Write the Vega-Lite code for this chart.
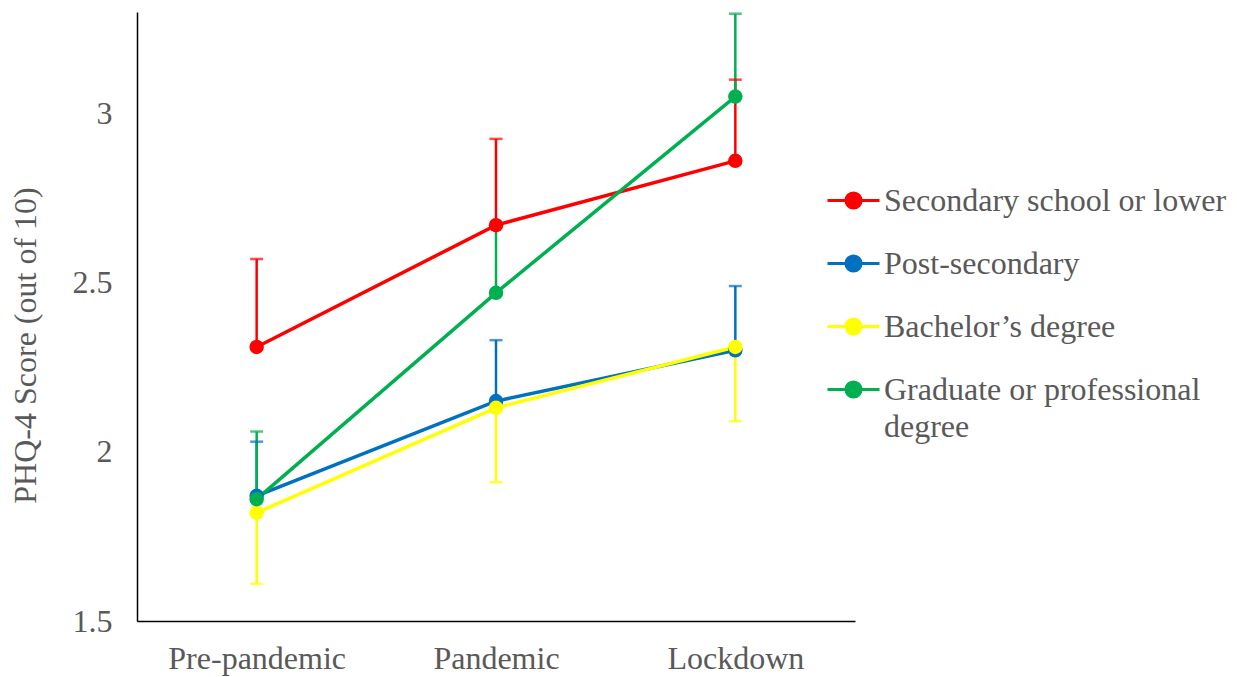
{
  "$schema": "https://vega.github.io/schema/vega-lite/v6.json",
  "width": 718,
  "height": 609,
  "autosize": {"type": "none"},
  "padding": {"left": 137, "top": 12, "right": 382, "bottom": 56},
  "background": "white",
  "config": {"view": {"stroke": null}, "font": "Liberation Serif"},
  "data": {
    "values": [
      {"edu": "Secondary school or lower", "period": "Pre-pandemic", "mean": 2.31, "cap": 2.57},
      {"edu": "Secondary school or lower", "period": "Pandemic", "mean": 2.67, "cap": 2.925},
      {"edu": "Secondary school or lower", "period": "Lockdown", "mean": 2.86, "cap": 3.10},
      {"edu": "Post-secondary", "period": "Pre-pandemic", "mean": 1.87, "cap": 2.03},
      {"edu": "Post-secondary", "period": "Pandemic", "mean": 2.15, "cap": 2.33},
      {"edu": "Post-secondary", "period": "Lockdown", "mean": 2.30, "cap": 2.49},
      {"edu": "Bachelor’s degree", "period": "Pre-pandemic", "mean": 1.82, "cap": 1.61},
      {"edu": "Bachelor’s degree", "period": "Pandemic", "mean": 2.13, "cap": 1.91},
      {"edu": "Bachelor’s degree", "period": "Lockdown", "mean": 2.31, "cap": 2.09},
      {"edu": "Graduate or professional degree", "period": "Pre-pandemic", "mean": 1.86, "cap": 2.06},
      {"edu": "Graduate or professional degree", "period": "Pandemic", "mean": 2.47, "cap": 2.67},
      {"edu": "Graduate or professional degree", "period": "Lockdown", "mean": 3.05, "cap": 3.295}
    ]
  },
  "encoding": {
    "x": {
      "field": "period",
      "type": "ordinal",
      "sort": ["Pre-pandemic", "Pandemic", "Lockdown"],
      "scale": {"type": "point", "padding": 0.5},
      "axis": {
        "title": null,
        "labelAngle": 0,
        "labelFont": "Liberation Serif",
        "labelFontSize": 32,
        "labelColor": "#595959",
        "labelPadding": 22,
        "ticks": false,
        "grid": false,
        "domainColor": "#000000",
        "domainWidth": 1.5
      }
    },
    "color": {
      "field": "edu",
      "type": "nominal",
      "scale": {
        "domain": ["Secondary school or lower", "Post-secondary", "Bachelor’s degree", "Graduate or professional degree"],
        "range": ["#FF0000", "#0070C0", "#FFFF00", "#00B050"]
      },
      "legend": {
        "orient": "none",
        "legendX": 689,
        "legendY": 161,
        "title": null,
        "padding": 0,
        "labelFont": "Liberation Serif",
        "labelFontSize": 32,
        "labelColor": "#595959",
        "labelLimit": 500,
        "labelOffset": 3,
        "rowPadding": 19,
        "symbolType": "M-1,0H1M0.29,0A0.29,0.29,0,1,1,-0.29,0A0.29,0.29,0,1,1,0.29,0Z",
        "symbolSize": 2704,
        "symbolStrokeWidth": 3,
        "labelExpr": "datum.value === 'Graduate or professional degree' ? ['Graduate or professional', 'degree'] : datum.label",
        "encode": {
          "symbols": {
            "update": {
              "fill": {"scale": "color", "field": "value"},
              "stroke": {"scale": "color", "field": "value"},
              "strokeWidth": {"value": 3},
              "opacity": {"value": 1}
            }
          },
          "labels": {
            "update": {
              "lineHeight": {"value": 37}
            }
          }
        }
      }
    }
  },
  "layer": [
    {
      "mark": {"type": "rule", "strokeWidth": 2.5},
      "encoding": {
        "y": {
          "field": "mean",
          "type": "quantitative",
          "scale": {"domain": [1.5, 3.3], "nice": false, "zero": false},
          "axis": {
            "title": "PHQ-4 Score (out of 10)",
            "values": [1.5, 2, 2.5, 3],
            "format": "~g",
            "grid": false,
            "ticks": false,
            "labelFont": "Liberation Serif",
            "labelFontSize": 32,
            "labelColor": "#595959",
            "labelPadding": 25,
            "domainColor": "#000000",
            "domainWidth": 1.5,
            "titleFont": "Liberation Serif",
            "titleFontSize": 32,
            "titleFontWeight": "normal",
            "titleColor": "#595959",
            "titleAngle": -90,
            "titleAlign": "center",
            "titleBaseline": "alphabetic",
            "titleX": -102,
            "titleY": 333
          }
        },
        "y2": {"field": "cap"}
      }
    },
    {
      "mark": {"type": "tick", "thickness": 2.5, "size": 13},
      "encoding": {
        "y": {"field": "cap", "type": "quantitative"}
      }
    },
    {
      "mark": {"type": "line", "strokeWidth": 3.5},
      "encoding": {
        "y": {"field": "mean", "type": "quantitative"}
      }
    },
    {
      "mark": {"type": "point", "filled": true, "size": 210, "opacity": 1},
      "encoding": {
        "y": {"field": "mean", "type": "quantitative"}
      }
    }
  ]
}
